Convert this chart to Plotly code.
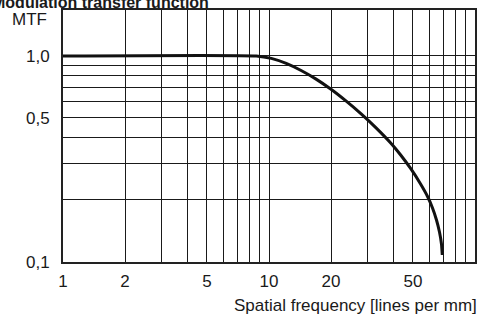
import plotly.graph_objects as go

# data
freq = [1, 8.68, 10.26, 12.12, 14.32, 16.93, 20.0, 23.63, 27.92, 33.0, 38.98, 43.57,
        48.69, 54.42, 58.84, 62.19, 65.02, 67.23, 68.74, 69.36]
mtf = [1.0, 1.0, 0.973, 0.920, 0.850, 0.772, 0.689, 0.605, 0.525, 0.449, 0.378, 0.3307,
       0.2844, 0.2391, 0.2080, 0.1829, 0.1599, 0.1398, 0.1223, 0.1081]

x_tickvals = [1, 2, 3, 4, 5, 6, 7, 8, 9, 10, 20, 30, 40, 50, 60, 70, 80, 90, 100]
x_ticktext = ["1", "2", "", "", "5", "", "", "", "", "10", "20", "", "", "50", "", "", "", "", ""]
y_tickvals = [0.1, 0.2, 0.3, 0.4, 0.5, 0.6, 0.7, 0.8, 0.9, 1.0]
y_ticktext = ["0,1", "", "", "", "0,5", "", "", "", "", "1,0"]

FONT = "Liberation Sans, Arial, sans-serif"
INK = "#1a1a1a"

fig = go.Figure()
fig.add_trace(go.Scatter(x=freq, y=mtf, mode="lines",
                         line=dict(color="#111111", width=3, shape="spline", smoothing=0.5),
                         hoverinfo="skip", showlegend=False))

fig.update_layout(
    width=479, height=314,
    margin=dict(l=63, r=2, t=10, b=52),
    paper_bgcolor="white", plot_bgcolor="white",
    font=dict(family=FONT, size=17, color=INK),
    showlegend=False,
)
fig.update_xaxes(type="log", range=[0, 2], tickvals=x_tickvals, ticktext=x_ticktext,
                 showgrid=True, gridcolor=INK, gridwidth=1,
                 showline=True, linecolor="#222222", linewidth=2, mirror=True,
                 ticks="", ticklabelstandoff=3, zeroline=False,
                 tickfont=dict(size=17, family=FONT, color=INK))
fig.update_yaxes(type="log", range=[-1, 0.223], tickvals=y_tickvals, ticktext=y_ticktext,
                 showgrid=True, gridcolor=INK, gridwidth=1,
                 showline=True, linecolor="#222222", linewidth=2, mirror=True,
                 ticks="", ticklabelstandoff=8, zeroline=False,
                 tickfont=dict(size=17, family=FONT, color=INK))

fig.add_annotation(text="<b>Modulation transfer function</b>", xref="paper", yref="paper",
                   x=-0.176, y=1.03, xanchor="left", yanchor="middle", showarrow=False,
                   font=dict(size=16, family=FONT, color=INK))
fig.add_annotation(text="MTF", xref="paper", yref="paper",
                   x=-0.082, y=0.962, xanchor="center", yanchor="middle", showarrow=False,
                   font=dict(size=17, family=FONT, color=INK))
fig.add_annotation(text="Spatial frequency [lines per mm]", xref="paper", yref="paper",
                   x=1.0, y=-0.172, xanchor="right", yanchor="middle", showarrow=False,
                   xshift=4, font=dict(size=17, family=FONT, color=INK))

fig.write_html("out.html", config={"displayModeBar": False},
               post_script="document.body.style.margin='0';")
